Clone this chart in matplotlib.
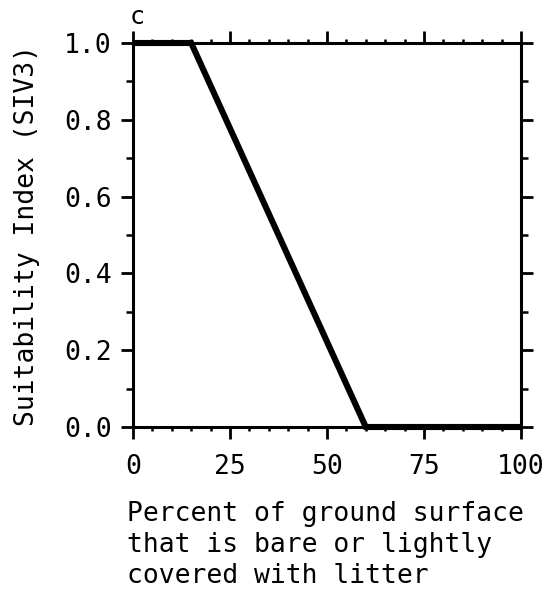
import matplotlib
matplotlib.use("Agg")
import matplotlib.pyplot as plt
from matplotlib.ticker import MultipleLocator

# Data
x_vals = [0, 15, 60, 100]
y_vals = [1.0, 1.0, 0.0, 0.0]
x_ticks = [0, 25, 50, 75, 100]
y_ticks = [0.0, 0.2, 0.4, 0.6, 0.8, 1.0]
y_tick_labels = ["0.0", "0.2", "0.4", "0.6", "0.8", "1.0"]
x_label = "Percent of ground surface\nthat is bare or lightly\ncovered with litter"
y_label = "Suitability Index (SIV3)"
panel = "c"

plt.rcParams['font.family'] = ['DejaVu Sans Mono']

W, H = 546, 592
fig = plt.figure(figsize=(W/100, H/100), dpi=100)
L, R, T, B = 133, 521, 43, 427
ax = fig.add_axes([L/W, 1-B/H, (R-L)/W, (B-T)/H])

ax.plot(x_vals, y_vals, color='black', linewidth=4.4, solid_capstyle='butt',
        solid_joinstyle='miter', clip_on=False, zorder=5)

ax.set_xlim(0, 100)
ax.set_ylim(0, 1)
ax.set_xticks(x_ticks)
ax.set_xticklabels([str(v) for v in x_ticks])
ax.set_yticks(y_ticks)
ax.set_yticklabels(y_tick_labels)
ax.xaxis.set_minor_locator(MultipleLocator(5))
ax.yaxis.set_minor_locator(MultipleLocator(0.1))

for s in ax.spines.values():
    s.set_linewidth(2.2)

ax.tick_params(which='major', direction='out', length=8.5, width=2,
               top=True, right=True, labelsize=19)
ax.tick_params(axis='y', which='major', pad=7)
ax.tick_params(axis='x', which='major', pad=11)
ax.tick_params(axis='x', which='minor', direction='out', length=3, width=1.8,
               top=True, bottom=True)
ax.tick_params(axis='y', which='minor', direction='out', length=5, width=1.8,
               left=True, right=True)

fig.text(27/W, 1-((T+B)/2)/H, y_label, fontsize=19, rotation=90,
         ha='center', va='center')
fig.text(127/W, 1-501/H, x_label, fontsize=19, ha='left', va='top', linespacing=1.25)
fig.text(137/W, 1-17/H, panel, fontsize=18, ha='center', va='center')

fig.savefig("out.png", dpi=100)
